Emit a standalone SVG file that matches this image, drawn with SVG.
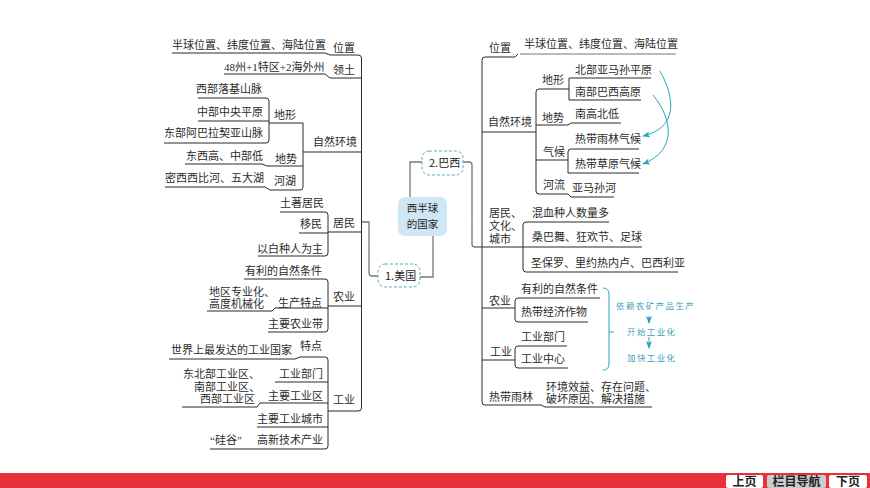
<svg xmlns="http://www.w3.org/2000/svg" width="870" height="488" viewBox="0 0 870 488">
<style>
text{font-family:"Liberation Serif","Noto Sans CJK SC",serif;font-size:11px;fill:#2b2b2b}
.l{fill:none;stroke:#2b2b2b;stroke-width:1;stroke-linejoin:round}
.g{fill:none;stroke:#777;stroke-width:1.3}
.b{fill:#fff;stroke:#5aa9c2;stroke-width:1;stroke-dasharray:3 2}
.c{font-family:"Noto Sans CJK SC",sans-serif;font-size:11px;fill:#222}
.r{font-family:"Noto Sans CJK SC",sans-serif;font-size:10.5px;fill:#222;text-anchor:middle}
.a{fill:none;stroke:#2aa3bd;stroke-width:1;marker-end:url(#ah)}
.t{font-family:"Noto Sans CJK SC",sans-serif;font-size:8.5px;fill:#3f9fbb;letter-spacing:1.4px}
.n{font-family:"Noto Sans CJK SC",sans-serif;font-size:12px;font-weight:700;fill:#222;text-anchor:middle}
</style>
<defs>
<marker id="ah" markerWidth="8" markerHeight="6" refX="7" refY="3" orient="auto" markerUnits="userSpaceOnUse"><path d="M0 0L8 3L0 6L2 3Z" fill="#2aa3bd"/></marker>
</defs>
<rect width="870" height="488" fill="#fff"/>
<g id="connectors">
<path class="l" d="M172 53H325L330 55H358Q361.500 55 361.500 58V408Q361.500 411 358 411H328"/>
<path class="l" d="M224 74H325L330 78H361"/>
<path class="l" d="M303 152H361M303 123V187Q303 190 300 190H270L265 187H165M269 123H303M267 166H303M185 164H262L267 166"/>
<path class="l" d="M198 98H266Q269 98 269 101V140Q269 143 266 143H164M198 121H269"/>
<path class="l" d="M280 212H325Q328 212 328 215V253Q328 256 325 256H258M299 233H328M328 232H361"/>
<path class="l" d="M328 306H361M244 279H325Q328 279 328 282V329Q328 332 325 332H268M275 308H328M207 311H272L275 308"/>
<path class="l" d="M169 359H295L300 357H325Q328 357 328 360V446Q328 449 325 449H210M275 382H328M260 403H328M182 407H257L260 403M257 427H328"/>
<path class="g" d="M410 197V162H422M463 162H469Q472 162 472 165V244Q472 247 475 247H482M420 277H433V236M362 222H369V273Q369 276 372 276H378"/>
<path class="l" d="M518 54L515 57H485Q482 57 482 60V402Q482 405 485 405H541L545 407H652"/>
<path class="g" style="stroke-width:1.100" d="M520 54H676"/>
<path class="l" d="M482 132H536M539 89Q536 89 536 92V191Q536 194 539 194H568L571 197H614M539 89H569M536 125H568L571 123H621M536 160H568"/>
<path class="l" d="M651 78H569V100H641M639 149H571Q568 149 568 152V173H639"/>
<path class="l" d="M482 247H523M609 222H526Q523 222 523 225V269Q523 272 526 272H678M523 247H642"/>
<path class="l" d="M482 308H515M600 298H518Q515 298 515 301V319Q515 322 518 322H588"/>
<path class="l" d="M482 360H515M567 346H518Q515 346 515 349V365Q515 368 518 368H568"/>
<path class="a" d="M660 71C676 100 677 128 643 136"/>
<path class="a" d="M653 95C672 118 678 150 643 164"/>
<path fill="none" stroke="#2aa3bd" d="M603 288Q609 288 609 294V364Q609 370 603 370M609 332H614"/>
<path class="a" d="M649 316V323"/>
<path class="a" d="M649 337V348"/>
</g>
<g id="usa-texts">
<text x="172" y="49">半球位置、纬度位置、海陆位置</text><text x="333" y="52">位置</text>
<text x="224" y="71">48州+1特区+2海外州</text><text x="333" y="74">领土</text>
<text x="196" y="93">西部落基山脉</text><text x="197" y="116">中部中央平原</text><text x="164" y="137">东部阿巴拉契亚山脉</text>
<text x="274" y="119">地形</text><text x="313" y="146">自然环境</text>
<text x="186" y="160">东西高、中部低</text><text x="275" y="163">地势</text>
<text x="165" y="182">密西西比河、五大湖</text><text x="274" y="185">河湖</text>
<text x="280" y="207">土著居民</text><text x="300" y="228">移民</text><text x="333" y="227">居民</text><text x="257" y="253">以白种人为主</text>
<text x="245" y="275">有利的自然条件</text><text x="209" y="296">地区专业化、</text><text x="209" y="308">高度机械化</text><text x="278" y="307">生产特点</text><text x="333" y="301">农业</text><text x="268" y="328">主要农业带</text>
<text x="171" y="354">世界上最发达的工业国家</text><text x="300" y="350">特点</text><text x="279" y="378">工业部门</text>
<text x="183" y="378">东北部工业区、</text><text x="194" y="391">南部工业区、</text><text x="200" y="403">西部工业区</text>
<text x="268" y="400">主要工业区</text><text x="333" y="404">工业</text><text x="257" y="423">主要工业城市</text>
<text x="210" y="444">“硅谷”</text><text x="257" y="444">高新技术产业</text>
</g>
<g id="root"><rect x="398" y="197" width="49" height="39" rx="7" fill="#cfe6f4"/><text class="r" x="422.500" y="212" >西半球</text><text class="r" x="422.500" y="228">的国家</text></g>
<g id="brazil"><rect class="b" x="422" y="151" width="41" height="24" rx="7"/><text class="c" x="429" y="167">2.巴西</text></g>
<g id="usa"><rect class="b" x="378" y="264" width="42" height="23" rx="7"/><text class="c" x="385" y="280">1.美国</text></g>
<g id="brazil-texts">
<text x="489" y="52">位置</text><text x="524" y="48">半球位置、纬度位置、海陆位置</text>
<text x="542" y="84">地形</text><text x="575" y="74">北部亚马孙平原</text><text x="575" y="96">南部巴西高原</text>
<text x="488" y="126">自然环境</text><text x="542" y="122">地势</text><text x="575" y="118">南高北低</text>
<text x="575" y="143">热带雨林气候</text><text x="543" y="156">气候</text><text x="575" y="168">热带草原气候</text>
<text x="543" y="189">河流</text><text x="572" y="192">亚马孙河</text>
<text x="489" y="217">居民、</text><text x="489" y="230">文化、</text><text x="489" y="243">城市</text>
<text x="532" y="217">混血种人数量多</text><text x="532" y="241">桑巴舞、狂欢节、足球</text><text x="531" y="267">圣保罗、里约热内卢、巴西利亚</text>
<text x="489" y="305">农业</text><text x="521" y="293">有利的自然条件</text><text x="521" y="316">热带经济作物</text>
<text x="490" y="356">工业</text><text x="521" y="341">工业部门</text><text x="521" y="363">工业中心</text>
<text x="489" y="401">热带雨林</text><text x="546" y="391">环境效益、存在问题、</text><text x="546" y="403">破坏原因、解决措施</text>
<text class="t" x="616" y="309">依赖农矿产品生产</text><text class="t" x="627" y="335">开始工业化</text><text class="t" x="627" y="361">加快工业化</text>
</g>
<g id="nav">
<rect x="0" y="473" width="870" height="15" fill="#e8303a"/>
<rect x="726" y="475" width="37" height="13" rx="2" fill="#fff"/><text class="n" x="744.500" y="486">上页</text>
<rect x="767" y="475" width="59" height="13" rx="2" fill="#ccc"/><text class="n" x="796.500" y="486">栏目导航</text>
<rect x="829" y="475" width="38" height="13" rx="2" fill="#fff"/><text class="n" x="848" y="486">下页</text>
</g>
</svg>
